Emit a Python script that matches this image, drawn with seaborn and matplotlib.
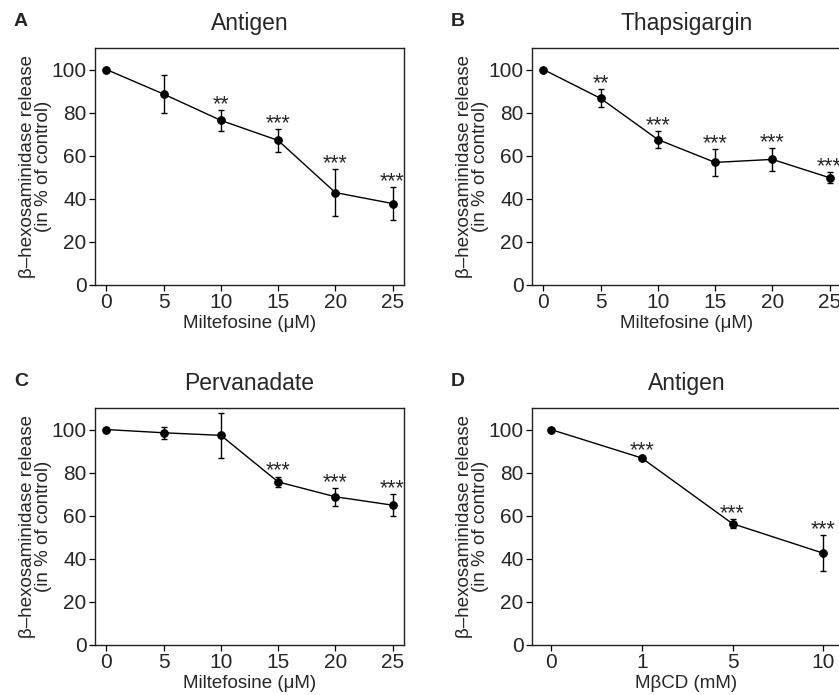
import numpy as np
import pandas as pd
import matplotlib
matplotlib.use("Agg")
import matplotlib.pyplot as plt
import seaborn as sns

sns.set_theme(style="ticks")
plt.rcParams['font.family'] = ['Liberation Sans', 'DejaVu Sans']

# panel data
milte_um = [0, 5, 10, 15, 20, 25]
mbcd_labels = ["0", "1", "5", "10"]

antigen_mean = [100, 88.6, 76.4, 67.1, 42.9, 37.8]
antigen_err = [0, 8.9, 4.85, 5.2, 10.9, 7.6]
antigen_sig = ["", "", "**", "***", "***", "***"]

thaps_mean = [100, 86.6, 67.5, 56.9, 58.3, 49.8]
thaps_err = [0, 4.2, 3.8, 6.3, 5.4, 2.5]
thaps_sig = ["", "**", "***", "***", "***", "***"]

perv_mean = [100, 98.5, 97.3, 75.7, 68.8, 64.9]
perv_err = [0, 2.9, 10.6, 2.5, 4.2, 5.2]
perv_sig = ["", "", "", "***", "***", "***"]

mbcd_mean = [100, 86.8, 56.3, 42.6]
mbcd_err = [0, 1.0, 2.0, 8.3]
mbcd_sig = ["", "***", "***", "***"]

ylab = "β\u2013hexosaminidase release\n(in % of control)"

fig = plt.figure(figsize=(8.39, 6.95), dpi=100)
W, H = 839, 695


def make_ax(left, top, width=309, height=237):
    return fig.add_axes([left / W, 1 - (top + height) / H, width / W, height / H])


def panel(ax, x, mean, err, sig, title, letter, xlabel, xticks, xticklabels, xlim):
    df = pd.DataFrame({"x": x, "y": mean})
    ax.errorbar(x, mean, yerr=err, fmt="none", ecolor="black", elinewidth=1.0,
                capsize=2.5, capthick=1.0, zorder=2)
    sns.lineplot(data=df, x="x", y="y", ax=ax, color="black", linewidth=1.0,
                 marker="o", markersize=5.5, markeredgecolor="black", zorder=3)
    for xi, m, e, s in zip(x, mean, err, sig):
        if s:
            ax.text(xi, m + e - 2.4, s, ha="center", va="bottom", fontsize=15.5)
    ax.set_xlim(*xlim)
    ax.set_ylim(0, 110)
    ax.set_yticks([0, 20, 40, 60, 80, 100])
    ax.set_xticks(xticks)
    ax.set_xticklabels(xticklabels)
    ax.set_xlabel(xlabel, fontsize=13.5, labelpad=2)
    ax.set_ylabel(ylab, fontsize=13.5, labelpad=0, linespacing=0.85)
    ax.set_title(title, fontsize=16.5, pad=13)
    ax.tick_params(labelsize=15, length=4, width=0.9, color="black", pad=2)
    for sp in ax.spines.values():
        sp.set_visible(True)
        sp.set_color("#222222")
        sp.set_linewidth(1.0)
    bb = ax.get_position()
    fig.text(bb.x0 - 81 / W, bb.y1 + 26 / H, letter, fontsize=14, fontweight="bold",
             ha="left", va="center")


axA = make_ax(95, 48)
panel(axA, milte_um, antigen_mean, antigen_err, antigen_sig, "Antigen", "A",
      "Miltefosine (\u03bcM)", milte_um, [str(v) for v in milte_um], (-1, 26))

axB = make_ax(532, 48)
panel(axB, milte_um, thaps_mean, thaps_err, thaps_sig, "Thapsigargin", "B",
      "Miltefosine (\u03bcM)", milte_um, [str(v) for v in milte_um], (-1, 26))

axC = make_ax(95, 408)
panel(axC, milte_um, perv_mean, perv_err, perv_sig, "Pervanadate", "C",
      "Miltefosine (\u03bcM)", milte_um, [str(v) for v in milte_um], (-1, 26))

axD = make_ax(532, 408)
pos = list(range(len(mbcd_labels)))
panel(axD, pos, mbcd_mean, mbcd_err, mbcd_sig, "Antigen", "D",
      "M\u03b2CD (mM)", pos, mbcd_labels, (-0.209, 3.195))

fig.savefig("out.png", dpi=100)
